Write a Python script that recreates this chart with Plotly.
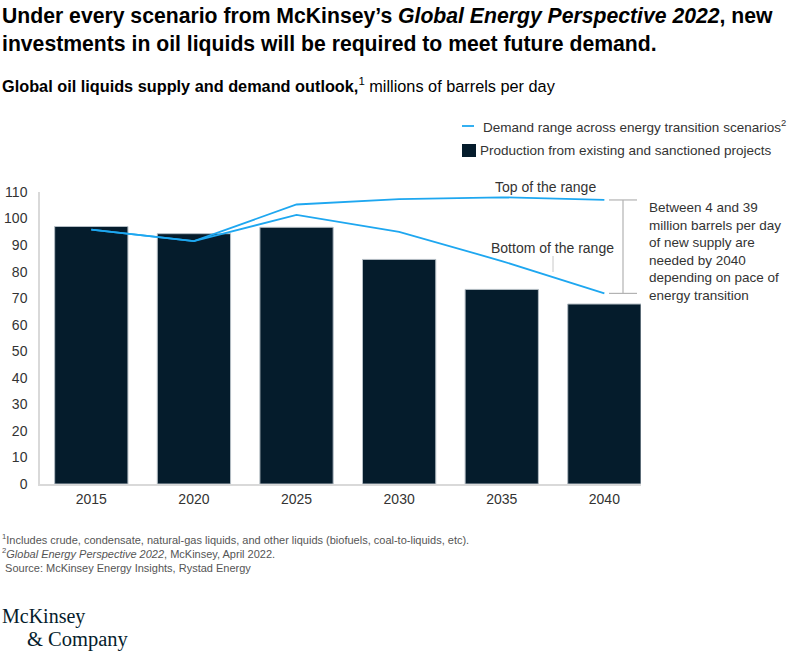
import plotly.graph_objects as go

years = ["2015", "2020", "2025", "2030", "2035", "2040"]
production = [97.0, 94.3, 96.7, 84.6, 73.3, 67.8]
demand_top = [95.8, 91.5, 105.3, 107.3, 108.0, 107.0]
demand_bottom = [95.8, 91.5, 101.4, 95.0, 84.0, 71.8]
y_ticks = [0, 10, 20, 30, 40, 50, 60, 70, 80, 90, 100, 110]

NAVY = "#051c2c"
BLUE = "#1ea7f0"
GRAY = "#333333"
FONT = "Liberation Sans, Arial, sans-serif"
SERIF = "Liberation Serif, Times New Roman, serif"

W, H = 800, 652
L, R = 40, 641          # plot area x pixels
T, B = 192, 484         # plot area y pixels (110 -> 192, 0 -> 484)

def px(x):
    return (x - L) / (R - L)

def py(y):
    return (B - y) / (B - T)

fig = go.Figure()
fig.add_trace(go.Bar(
    x=years, y=production, marker=dict(color=NAVY, line=dict(color="#b4bdc4", width=1)),
    width=0.714, showlegend=False, hoverinfo="x+y",
))
fig.add_trace(go.Scatter(
    x=years, y=demand_top, mode="lines", line=dict(color=BLUE, width=1.8),
    showlegend=False,
))
fig.add_trace(go.Scatter(
    x=years, y=demand_bottom, mode="lines", line=dict(color=BLUE, width=1.8),
    showlegend=False,
))

shapes = []
annotations = []

# Bracket on 2040 gap between top and bottom of demand range
bx = px(623)
shapes.append(dict(type="line", xref="paper", yref="y", x0=bx, x1=bx,
                   y0=demand_bottom[-1], y1=demand_top[-1], line=dict(color="#b3b3b3", width=1.2)))
for v in (demand_top[-1], demand_bottom[-1]):
    shapes.append(dict(type="line", xref="paper", yref="y", x0=px(609), x1=px(637),
                       y0=v, y1=v, line=dict(color="#b3b3b3", width=1.2)))
# leader for Bottom of the range
shapes.append(dict(type="line", xref="paper", yref="paper", x0=px(553), x1=px(553),
                   y0=py(272), y1=py(256), line=dict(color="#c8c8c8", width=1)))

# legend (manual)
shapes.append(dict(type="line", xref="paper", yref="paper", x0=px(462), x1=px(474),
                   y0=py(126), y1=py(126), line=dict(color=BLUE, width=1.8)))
shapes.append(dict(type="rect", xref="paper", yref="paper", x0=px(462), x1=px(476),
                   y0=py(157), y1=py(144), line=dict(width=0), fillcolor=NAVY))
annotations.append(dict(xref="paper", yref="paper", x=px(481), y=py(125.5), xanchor="left", yanchor="middle",
                        text="Demand range across energy transition scenarios<sup>2</sup>", showarrow=False,
                        font=dict(family=FONT, size=13.5, color=GRAY)))
annotations.append(dict(xref="paper", yref="paper", x=px(478), y=py(150.5), xanchor="left", yanchor="middle",
                        text="Production from existing and sanctioned projects", showarrow=False,
                        font=dict(family=FONT, size=13.5, color=GRAY)))

annotations.append(dict(xref="paper", yref="paper", x=px(545), y=py(187), xanchor="center", yanchor="middle",
                        text="Top of the range", showarrow=False,
                        font=dict(family=FONT, size=14, color=GRAY)))
annotations.append(dict(xref="paper", yref="paper", x=px(552), y=py(248), xanchor="center", yanchor="middle",
                        text="Bottom of the range", showarrow=False,
                        font=dict(family=FONT, size=14, color=GRAY)))
annotations.append(dict(xref="paper", yref="paper", x=px(647), y=py(251), xanchor="left", yanchor="middle",
                        align="left",
                        text="Between 4 and 39<br>million barrels per day<br>of new supply are<br>needed by 2040<br>depending on pace of<br>energy transition",
                        showarrow=False, font=dict(family=FONT, size=13.5, color=GRAY)))

# titles
annotations.append(dict(xref="paper", yref="paper", x=px(0), y=py(30), xanchor="left", yanchor="middle",
                        align="left",
                        text="<b>Under every scenario from McKinsey’s <i>Global Energy Perspective 2022</i>, new<br>investments in oil liquids will be required to meet future demand.</b>",
                        showarrow=False, font=dict(family=FONT, size=21.2, color="#000000")))
annotations.append(dict(xref="paper", yref="paper", x=px(0), y=py(85), xanchor="left", yanchor="middle",
                        text="<b>Global oil liquids supply and demand outlook,</b><sup>1</sup> millions of barrels per day",
                        showarrow=False, font=dict(family=FONT, size=16.3, color="#000000")))

# footnotes
annotations.append(dict(xref="paper", yref="paper", x=px(0), y=py(553), xanchor="left", yanchor="middle",
                        align="left",
                        text="<sup>1</sup>Includes crude, condensate, natural-gas liquids, and other liquids (biofuels, coal-to-liquids, etc).<br>"
                             "<sup>2</sup><i>Global Energy Perspective 2022</i>, McKinsey, April 2022.<br>"
                             " Source: McKinsey Energy Insights, Rystad Energy",
                        showarrow=False, font=dict(family=FONT, size=11, color="#555555")))

# logo
annotations.append(dict(xref="paper", yref="paper", x=px(0), y=py(616), xanchor="left", yanchor="middle",
                        text="McKinsey", showarrow=False,
                        font=dict(family=SERIF, size=20, color=NAVY)))
annotations.append(dict(xref="paper", yref="paper", x=px(25), y=py(639), xanchor="left", yanchor="middle",
                        text="&amp; Company", showarrow=False,
                        font=dict(family=SERIF, size=20.5, color=NAVY)))

fig.update_layout(
    width=W, height=H,
    margin=dict(l=L, r=W - R, t=T, b=H - B, pad=0, autoexpand=False),
    paper_bgcolor="white", plot_bgcolor="white",
    font=dict(family=FONT, size=14, color=GRAY),
    showlegend=False,
    shapes=shapes, annotations=annotations,
    xaxis=dict(type="category", range=[-0.5, 5.357], showgrid=False, showline=True, automargin=False,
               linecolor="#d9d9d9", linewidth=1.5, ticks="", tickfont=dict(size=14, color=GRAY),
               ticklabelstandoff=1, fixedrange=True),
    yaxis=dict(range=[0, 110], tickvals=y_ticks, showgrid=False, zeroline=False, showline=True, automargin=False,
               linecolor="#d9d9d9", linewidth=1.5, ticks="", tickfont=dict(size=14, color=GRAY),
               ticklabelstandoff=8, fixedrange=True),
)

fig.write_html("out.html", config={"displayModeBar": False},
               post_script="document.body.style.margin='0';document.body.style.padding='0';document.body.style.overflow='hidden';")
